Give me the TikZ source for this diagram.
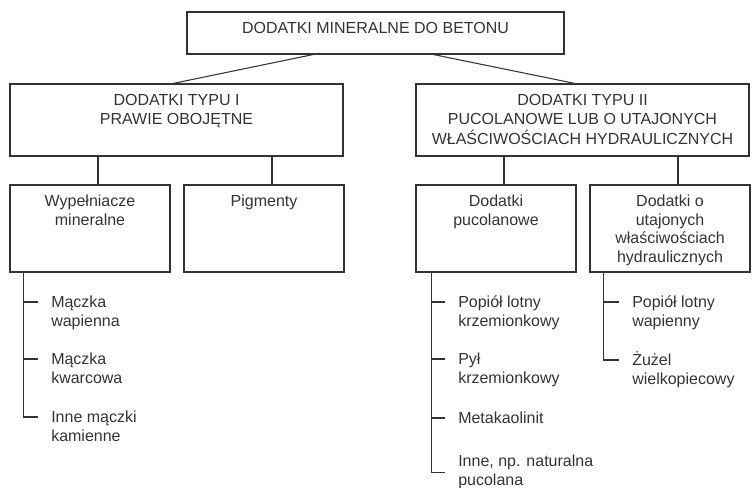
\documentclass[tikz,border=0pt]{standalone}
\usepackage{fontspec}
\setmainfont{Liberation Sans}
\usetikzlibrary{calc}

\definecolor{ink}{gray}{0.2}

\newcommand{\boxlines}[1]{\begin{tabular}[t]{@{}c@{}}#1\end{tabular}}
\newcommand{\itemlines}[2][t]{\begin{tabular}[#1]{@{}l@{}}#2\end{tabular}}

\tikzset{
	box/.style={draw=ink, line width=0.8pt, inner sep=0pt, text height=16.3pt},
	rootbox/.style={box, minimum width=282.75pt, text depth=15.2pt},
	typebox/.style={box, minimum width=249.75pt, text depth=37.7pt},
	groupbox/.style={box, minimum width=120pt, text depth=48.95pt},
	leaf/.style={anchor=west, inner sep=0pt, text height=8.6pt, text depth=0pt},
	link/.style={draw=ink, line width=0.8pt},
}

\begin{document}
\begin{tikzpicture}[x=0.75pt, y=-0.75pt, font=\fontsize{12}{13.9}\selectfont, text=ink]
	\useasboundingbox (0,0) rectangle (756,488);

	% levels 1 and 2
	\node[rootbox] (root) at (375.5,33) {\boxlines{DODATKI MINERALNE DO BETONU}};
	\node[typebox] (typ1) at (176.5,120) {\boxlines{DODATKI TYPU I\\PRAWIE OBOJĘTNE}};
	\node[typebox] (typ2) at (582.5,120) {\boxlines{DODATKI TYPU II\\PUCOLANOWE LUB O UTAJONYCH\\WŁAŚCIWOŚCIACH HYDRAULICZNYCH}};

	\draw[link] ($(root.south west)!0.335!(root.south east)$) -- ($(typ1.north)+(-3.5,0)$);
	\draw[link] ($(root.south west)!0.653!(root.south east)$) -- ($(typ2.north)+(-7.5,0)$);

	% level 3
	\node[groupbox] (wyp) at (90,228.5) {\boxlines{Wypełniacze\\mineralne}};
	\node[groupbox] (pig) at (264,228.5) {\boxlines{Pigmenty}};
	\node[groupbox] (puc) at (496,228.5) {\boxlines{Dodatki\\pucolanowe}};
	\node[groupbox] (uta) at (670,228.5) {\boxlines{Dodatki o\\utajonych\\właściwościach\\hydraulicznych}};

	\foreach \g/\t in {wyp/typ1, pig/typ1, puc/typ2, uta/typ2}
		\draw[link] ([xshift=6pt]\g.north) -- ([xshift=6pt]\g.north |- \t.south);

	% lists
	\node[leaf] (w1) at (51,302) {\itemlines{Mączka\\wapienna}};
	\node[leaf] (w2) at (51,359) {\itemlines{Mączka\\kwarcowa}};
	\node[leaf] (w3) at (51,417) {\itemlines{Inne mączki\\kamienne}};

	\node[leaf] (p1) at (458,302) {\itemlines{Popiół lotny\\krzemionkowy}};
	\node[leaf] (p2) at (458,359) {\itemlines{Pył\\krzemionkowy}};
	\node[leaf] (p3) at (458,418) {\itemlines{Metakaolinit}};
	\node[anchor=west, inner sep=0pt] (p4) at (458,472.5) {\itemlines[c]{Inne, np. naturalna\\pucolana}};

	\node[leaf] (u1) at (632,302) {\itemlines{Popiół lotny\\wapienny}};
	\node[leaf] (u2) at (632,360) {\itemlines{Żużel\\wielkopiecowy}};

	\coordinate (wbar) at ([xshift=10.5pt]wyp.south west);
	\coordinate (pbar) at ([xshift=12pt]puc.south west);
	\coordinate (ubar) at ([xshift=10.5pt]uta.south west);

	\draw[link] (wbar) |- ([xshift=-9.5pt]w3.west);
	\draw[link] (pbar) |- ([xshift=-9.5pt]p4.west);
	\draw[link] (ubar) |- ([xshift=-9.5pt]u2.west);
	\foreach \b/\n in {wbar/w1, wbar/w2, pbar/p1, pbar/p2, pbar/p3, ubar/u1}
		\draw[link] (\b |- \n.west) -- ([xshift=-9.5pt]\n.west);
\end{tikzpicture}
\end{document}
